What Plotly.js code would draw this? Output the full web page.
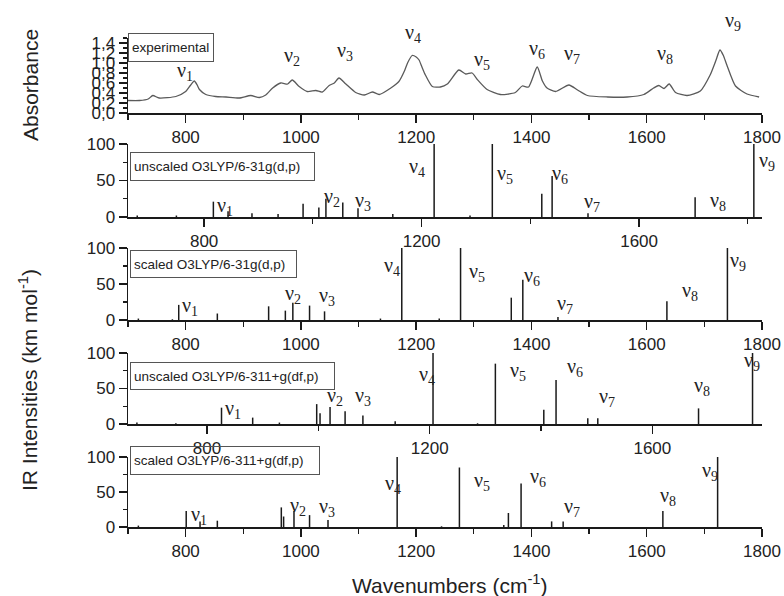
<!DOCTYPE html>
<html>
<head>
<meta charset="utf-8">
<script src="https://cdn.plot.ly/plotly-3.0.1.min.js"></script>
<style>html,body{margin:0;padding:0;background:#fff;}#chart{width:784px;height:596px;}</style>
</head>
<body>
<div id="chart"></div>
<script>
// ---------------- DATA ----------------
// Experimental absorbance spectrum (wavenumber, absorbance)
const expWavenumber = [700,720,735,743,754,783,800,808,815,820,824,835,852,870,893,913,928,939,951,965,977,985,997,1011,1026,1037,1049,1058,1066,1078,1095,1110,1124,1136,1156,1170,1180,1185,1193,1200,1205,1210,1216,1228,1242,1254,1274,1286,1297,1306,1323,1346,1372,1384,1395,1410,1419,1427,1442,1465,1480,1497,1532,1566,1595,1612,1621,1630,1639,1650,1670,1693,1710,1720,1727,1733,1739,1754,1774,1795];
const expAbsorbance = [0.25,0.25,0.28,0.35,0.30,0.33,0.43,0.55,0.64,0.56,0.47,0.37,0.33,0.32,0.30,0.35,0.31,0.36,0.50,0.60,0.58,0.66,0.53,0.43,0.45,0.42,0.55,0.60,0.70,0.58,0.41,0.36,0.42,0.37,0.50,0.63,0.85,1.00,1.15,1.12,1.06,0.92,0.76,0.53,0.52,0.58,0.86,0.78,0.80,0.67,0.47,0.37,0.41,0.54,0.52,0.92,0.64,0.50,0.43,0.56,0.46,0.35,0.32,0.32,0.37,0.50,0.55,0.49,0.58,0.41,0.35,0.44,0.76,1.05,1.26,1.15,0.96,0.54,0.38,0.32];

// Computed IR stick spectra (wavenumber, intensity km/mol)
const unscaled631Freq = [677,749,817,844,888,936,982,1011,1024,1055,1083,1147,1223,1289,1330,1421,1440,1506,1703,1811];
const unscaled631Int  = [2,2,21,8,5,4,18,13,25,20,12,4,100,2,100,32,56,5,27,100];

const scaled631Freq = [718,777,788,855,944,973,986,1015,1041,1138,1175,1240,1277,1365,1385,1446,1635,1740];
const scaled631Int  = [2,1,21,9,19,13,24,20,12,2,100,2,100,31,56,4,26,100];

const unscaled6311Freq = [674,744,826,882,930,997,1003,1021,1048,1080,1138,1206,1286,1318,1405,1427,1484,1502,1683,1780];
const unscaled6311Int  = [2,1,23,9,2,28,15,24,18,12,4,100,1,85,20,62,8,8,22,100];

const scaled6311Freq = [718,801,825,855,966,970,988,1015,1047,1167,1244,1275,1352,1360,1382,1435,1455,1628,1723];
const scaled6311Int  = [2,23,8,9,28,15,23,17,10,100,1,85,3,20,62,8,8,23,100];

const panelLabels = ['experimental','unscaled O3LYP/6-31g(d,p)','scaled O3LYP/6-31g(d,p)','unscaled O3LYP/6-311+g(df,p)','scaled O3LYP/6-311+g(df,p)'];
const modeNames = ['1','2','3','4','5','6','7','8','9'];

// ---------------- LAYOUT HELPERS ----------------
const W = 784, H = 596;
const M = {l:128, r:22, t:38, b:69};
const PW = W - M.l - M.r, PH = H - M.t - M.b;
const px2x = p => (p - M.l) / PW;
const py2y = p => (H - M.b - p) / PH;
const dom = (top, bottom) => [py2y(bottom), py2y(top)];

// label positions (pixel: left edge of nu, vertical centre)
const nuPos = [
  [[175,67],[282,53],[335,48],[403,30],[472,57],[527,45],[562,50],[655,50],[723,18]],
  [[215,203],[322,193],[353,197],[407,163],[495,170],[550,170],[582,198],[708,197],[757,157]],
  [[180,302],[283,290],[317,292],[382,262],[467,268],[522,272],[555,300],[680,287],[728,257]],
  [[223,405],[325,392],[353,392],[417,372],[508,367],[565,363],[597,393],[692,382],[742,357]],
  [[189,511],[288,502],[317,503],[383,480],[472,477],[528,473],[562,503],[658,492],[700,467]]
];
const boxPos = [[128,33,86,29],[130,152,185,29],[130,250,167,28],[130,362,205,28],[130,446,190,29]];

function sticks(xs, ys){
  const X=[],Y=[];
  xs.forEach((x,i)=>{X.push(x,x,null);Y.push(0,ys[i],null);});
  return {X,Y};
}

const ink = '#1a1a1a';
const tickFont = {family:'Liberation Sans, Arial, sans-serif', size:17, color:'#222'};
function xAxis(range, dtick, tick0, minorD, anchor){
  return {range:range, anchor:anchor, showline:true, linecolor:ink, linewidth:1.5, mirror:false,
    ticks:'outside', ticklen:8, tickwidth:1.5, tickcolor:ink, showgrid:false, zeroline:false,
    tickmode:'linear', dtick:dtick, tick0:tick0, tickfont:tickFont,
    minor:{ticks:'outside', ticklen:5, tickwidth:1.2, tickcolor:ink, dtick:minorD, tick0:tick0, showgrid:false}};
}
function yAxis(domain, range, dtick, minorD, anchor, fmt){
  const a = {domain:domain, range:range, anchor:anchor, showline:true, linecolor:ink, linewidth:1.5,
    ticks:'outside', ticklen:8, tickwidth:1.5, tickcolor:ink, showgrid:false, zeroline:false,
    tickmode:'linear', dtick:dtick, tick0:0, tickfont:tickFont,
    minor:{ticks:'outside', ticklen:4, tickwidth:1.2, tickcolor:ink, dtick:minorD, tick0:0, showgrid:false}};
  if (fmt) a.tickformat = fmt;
  return a;
}

// ---------------- TRACES ----------------
const traces = [{
  x: expWavenumber, y: expAbsorbance, type:'scatter', mode:'lines',
  line:{color:'#5a5a5a', width:1.3, shape:'spline', smoothing:0.6},
  xaxis:'x', yaxis:'y', hoverinfo:'skip'
}];
const stickSets = [[unscaled631Freq,unscaled631Int],[scaled631Freq,scaled631Int],[unscaled6311Freq,unscaled6311Int],[scaled6311Freq,scaled6311Int]];
stickSets.forEach((s,i)=>{
  const st = sticks(s[0], s[1]);
  traces.push({x:st.X, y:st.Y, type:'scatter', mode:'lines', connectgaps:false,
    line:{color:ink, width:1.5}, xaxis:'x'+(i+2), yaxis:'y'+(i+2), cliponaxis:false, hoverinfo:'skip'});
});

// ---------------- ANNOTATIONS ----------------
const annotations = [];
nuPos.forEach(panel=>{
  panel.forEach((p,j)=>{
    annotations.push({xref:'paper', yref:'paper', x:px2x(p[0]), y:py2y(p[1]+4), xanchor:'left', yanchor:'middle',
      text:'ν<sub>'+modeNames[j]+'</sub>', showarrow:false,
      font:{family:'Liberation Serif, Times New Roman, serif', size:20, color:'#222'}});
  });
});
boxPos.forEach((b,i)=>{
  annotations.push({xref:'paper', yref:'paper', x:px2x(b[0]), y:py2y(b[1]), xanchor:'left', yanchor:'top',
    text:panelLabels[i], showarrow:false, align:'left', valign:'middle',
    width:b[2]-8, height:b[3]-8, borderpad:3, borderwidth:1, bordercolor:'#555', bgcolor:'rgba(255,255,255,0)',
    font:{family:'Liberation Sans, Arial, sans-serif', size:13.5, color:'#222'}});
});
const titleFont = {family:'Liberation Sans, Arial, sans-serif', size:21, color:'#222'};
annotations.push({xref:'paper', yref:'paper', x:px2x(30), y:py2y(85), textangle:-90, showarrow:false, text:'Absorbance', font:titleFont, xanchor:'center', yanchor:'middle'});
annotations.push({xref:'paper', yref:'paper', x:px2x(28), y:py2y(380), textangle:-90, showarrow:false, text:'IR Intensities (km mol<sup>-1</sup>)', font:titleFont, xanchor:'center', yanchor:'middle'});
annotations.push({xref:'paper', yref:'paper', x:px2x(450), y:py2y(584), showarrow:false, text:'Wavenumbers (cm<sup>-1</sup>)', font:titleFont, xanchor:'center', yanchor:'middle'});

// ---------------- LAYOUT ----------------
const layout = {
  width:W, height:H, margin:M, paper_bgcolor:'#fff', plot_bgcolor:'#fff', showlegend:false,
  separators:', ',
  xaxis:  xAxis([700,1800], 200, 800, 100, 'y'),
  yaxis:  yAxis(dom(38,113), [0,1.5], 0.2, 0.1, 'x', '.1f'),
  xaxis2: xAxis([660,1826], 400, 800, 200, 'y2'),
  yaxis2: yAxis(dom(144,217), [0,100], 50, 25, 'x2'),
  xaxis3: xAxis([700,1800], 200, 800, 100, 'y3'),
  yaxis3: yAxis(dom(248,320), [0,100], 50, 25, 'x3'),
  xaxis4: xAxis([658,1797], 400, 800, 200, 'y4'),
  yaxis4: yAxis(dom(353,424), [0,100], 50, 25, 'x4'),
  xaxis5: xAxis([700,1800], 200, 800, 100, 'y5'),
  yaxis5: yAxis(dom(457,527), [0,100], 50, 25, 'x5'),
  annotations: annotations
};

Plotly.newPlot('chart', traces, layout, {displayModeBar:false, staticPlot:true});
</script>
</body>
</html>
